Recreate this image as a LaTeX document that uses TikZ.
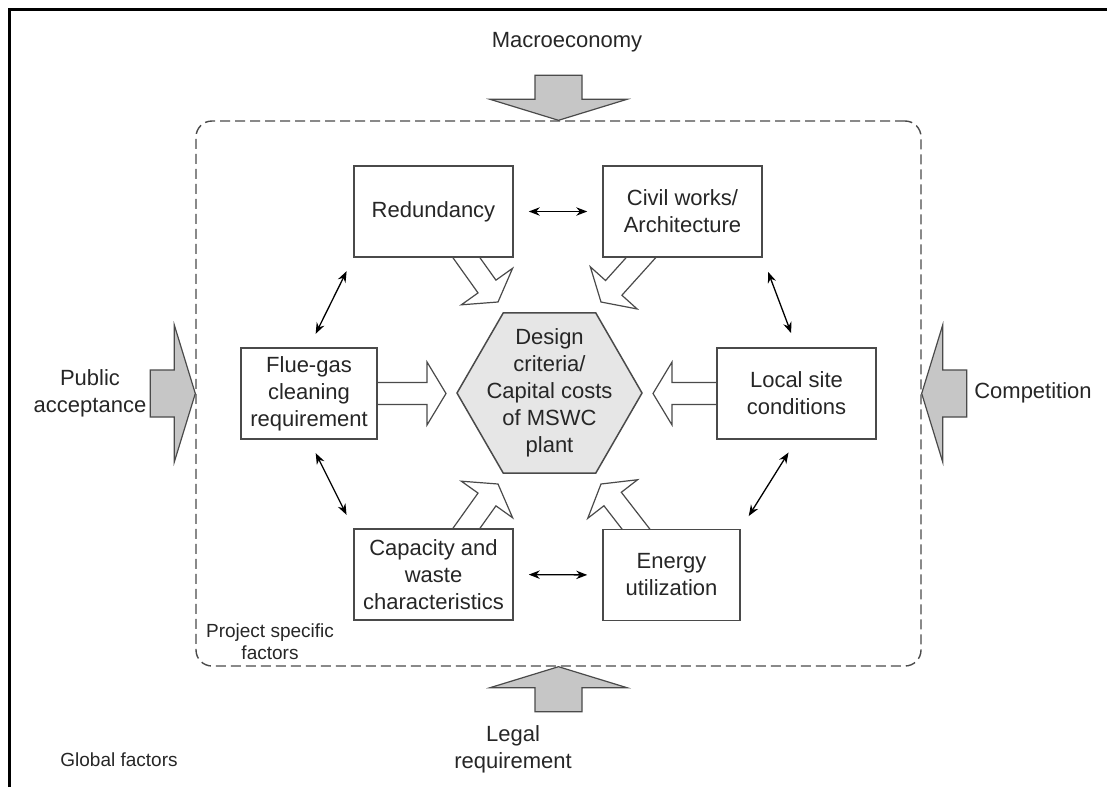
\documentclass[tikz,border=0pt]{standalone}
\usepackage{fontspec}
\setmainfont{Liberation Sans}
\usetikzlibrary{calc,arrows.meta,shapes.geometric,backgrounds}

\definecolor{linegray}{HTML}{4A4A4A}
\definecolor{fillgray}{HTML}{C6C6C6}
\definecolor{hexgray}{HTML}{E6E6E6}
\definecolor{inkgray}{HTML}{262626}

\begin{document}
\begin{tikzpicture}[x=0.5pt, y=-0.5pt,
    box/.style={draw=linegray, line width=0.75pt, fill=white, text=inkgray, align=center,
        minimum height=45.5pt, inner sep=2pt, font=\fontsize{11pt}{13.5pt}\selectfont},
    factor/.style={text=inkgray, align=center, inner sep=0pt, font=\fontsize{11pt}{13.5pt}\selectfont},
    note/.style={text=inkgray, align=center, inner sep=0pt, font=\fontsize{9.5pt}{11pt}\selectfont},
    link/.style={{Stealth[length=5.5pt,width=4.2pt]}-{Stealth[length=5.5pt,width=4.2pt]},
        line width=0.65pt, black, shorten <=7.5pt, shorten >=7.5pt},
    block arrow/.style n args={3}{to path={
        ($(\tikztostart)!#1!90:(\tikztotarget)$)
        -- ($($(\tikztotarget)!#3!(\tikztostart)$)!#1!90:(\tikztotarget)$)
        -- ($($(\tikztotarget)!#3!(\tikztostart)$)!#2!90:(\tikztotarget)$)
        -- (\tikztotarget)
        -- ($($(\tikztotarget)!#3!(\tikztostart)$)!#2!-90:(\tikztotarget)$)
        -- ($($(\tikztotarget)!#3!(\tikztostart)$)!#1!-90:(\tikztotarget)$)
        -- ($(\tikztostart)!#1!-90:(\tikztotarget)$) -- cycle}},
    warrow/.style={draw=linegray, fill=white, line width=0.6pt, line join=miter,
        block arrow={5.5pt}{15.75pt}{9.5pt}},
    garrow/.style={draw=linegray, fill=fillgray, line width=0.6pt, line join=miter,
        block arrow={11.75pt}{34.25pt}{10.5pt}}]

    \useasboundingbox (0,0) rectangle (1107,787);

    % Outer frame (global factors)
    \draw[line width=1.5pt] (9,787) -- (9,9) -- (1107,9);

    % Project frame
    \node[draw=linegray, dash pattern=on 5pt off 2.5pt, line width=0.7pt, rounded corners=8pt,
        minimum width=362.5pt, minimum height=272.5pt, inner sep=0pt] (proj) at (558.5,393.5) {};

    % Centre hexagon
    \node[regular polygon, regular polygon sides=6, minimum size=92.5pt, inner sep=0pt,
        draw=linegray, fill=hexgray, line width=0.75pt] (hex) at (549.5,393) {};
    \node[factor] (hextext) at (hex.center) {Design\\criteria/\\Capital costs\\of MSWC\\plant};

    % Project specific factors
    \node[box, minimum width=79.5pt] (red) at (433.5,211.5) {Redundancy};
    \node[box, minimum width=79.5pt] (civil) at (682.5,211.5) {Civil works/\\Architecture};
    \node[box, minimum width=68pt] (flue) at (309,393.5) {Flue-gas\\cleaning\\requirement};
    \node[box, minimum width=79.5pt] (local) at (796.5,393.5) {Local site\\conditions};
    \node[box, minimum width=79.5pt] (cap) at (433.5,574.5) {Capacity and\\waste\\characteristics};
    \node[box, minimum width=68.5pt] (energy) at (671.5,575) {Energy\\utilization};

    % Arrow tips near the hexagon
    \coordinate (tR) at (498,302);
    \coordinate (tC) at (601,302);
    \coordinate (tF) at (446,393.5);
    \coordinate (tL) at (653,393.5);
    \coordinate (tCa) at (498,484);
    \coordinate (tE) at (601,484);

    % White block arrows into the hexagon
    \begin{scope}[on background layer]
        \draw[warrow] (red.center) to (tR);
        \draw[warrow] (civil.center) to (tC);
        \draw[warrow] (flue.center) to (tF);
        \draw[warrow] (local.center) to (tL);
        \draw[warrow] (cap.center) to (tCa);
        \draw[warrow] (energy.center) to (tE);
    \end{scope}

    % Links between factors
    \draw[link] (red.east) -- (civil.west);
    \draw[link] (red.south west) -- (flue.north);
    \draw[link] (civil.south east) -- (local.north);
    \draw[link] (flue.south) -- (cap.north west);
    \draw[link] (local.south) -- (energy.north east);
    \draw[link] (cap.east) -- (energy.west);

    % Global factors
    \node[factor] (macro) at (567,42) {Macroeconomy};
    \node[factor] (public) at (90,393.5) {Public\\acceptance};
    \node[factor] (compet) at (1033,393) {Competition};
    \node[factor] (legal) at (513,749.5) {Legal\\requirement};
    \node[note] (global) at (119,760) {Global factors};
    \node[note] (projlbl) at (270,642) {Project specific\\factors};

    \coordinate (macroin) at ($(proj.north)+(0,-45)$);
    \coordinate (publicin) at ($(proj.west)+(-45,0)$);
    \coordinate (competin) at ($(proj.east)+(45,0)$);
    \coordinate (legalin) at ($(proj.south)+(0,45)$);

    \draw[garrow] (macroin) to (proj.north);
    \draw[garrow] (publicin) to (proj.west);
    \draw[garrow] (competin) to (proj.east);
    \draw[garrow] (legalin) to (proj.south);

\end{tikzpicture}
\end{document}
